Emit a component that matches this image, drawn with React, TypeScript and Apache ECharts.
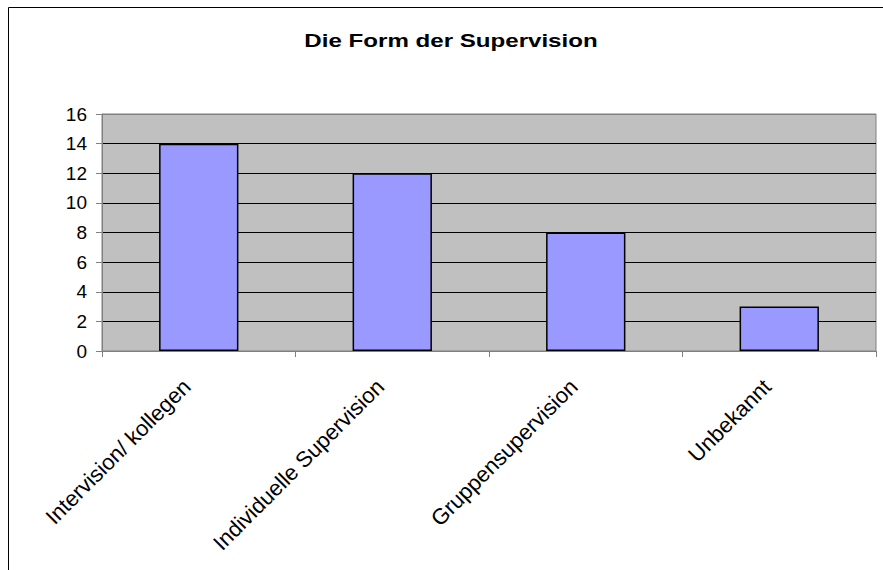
import React, { useEffect, useRef } from "react";
import * as echarts from "echarts";

const categories = ["Intervision/ kollegen", "Individuelle Supervision", "Gruppensupervision", "Unbekannt"];
const values = [14, 12, 8, 3];
const titleText = "Die Form der Supervision";

export default function App() {
  const ref = useRef<HTMLDivElement>(null);
  useEffect(() => {
    if (!ref.current) return;
    const chart = echarts.init(ref.current, null, { renderer: "svg" });
    const font = "Arial, 'Liberation Sans', sans-serif";
    chart.setOption({
      animation: false,
      backgroundColor: "#ffffff",
      graphic: [
        {
          type: "rect",
          shape: { x: 8.5, y: 7.5, width: 1000, height: 1000 },
          style: { fill: "none", stroke: "#000", lineWidth: 1 },
          silent: true,
        },
        {
          type: "text",
          x: 451,
          y: 41,
          scaleX: 1.34,
          style: {
            text: titleText,
            font: "bold 18px Arial, 'Liberation Sans', sans-serif",
            fill: "#000",
            textAlign: "center",
            textVerticalAlign: "middle",
          },
          silent: true,
        },
      ],
      grid: {
        left: 102,
        top: 114,
        right: 7,
        bottom: 219,
        show: true,
        backgroundColor: "#C0C0C0",
        borderColor: "#808080",
        borderWidth: 1,
      },
      xAxis: {
        type: "category",
        data: categories,
        axisLine: { lineStyle: { color: "#808080" } },
        axisTick: { show: true, length: 6, lineStyle: { color: "#808080" } },
        axisLabel: {
          rotate: 45,
          interval: 0,
          margin: 20,
          padding: [0, 17, 0, 0],
          color: "#000",
          fontFamily: font,
          fontSize: 22,
        },
      },
      yAxis: {
        type: "value",
        min: 0,
        max: 16,
        interval: 2,
        axisLine: { show: true, lineStyle: { color: "#808080" } },
        axisTick: { show: true, length: 6, lineStyle: { color: "#808080" } },
        axisLabel: { color: "#000", fontFamily: font, fontSize: 19, margin: 15 },
        splitLine: {
          show: true,
          lineStyle: {
            color: ["#808080", "#000", "#000", "#000", "#000", "#000", "#000", "#000", "#808080"],
            width: 1,
          },
        },
      },
      series: [
        {
          type: "bar",
          data: values,
          barWidth: "41%",
          itemStyle: { color: "#9999FF", borderColor: "#000", borderWidth: 1.5 },
        },
      ],
    });
    return () => chart.dispose();
  }, []);
  return <div ref={ref} style={{ position: "fixed", left: 0, top: 0, width: 883, height: 570 }} />;
}
